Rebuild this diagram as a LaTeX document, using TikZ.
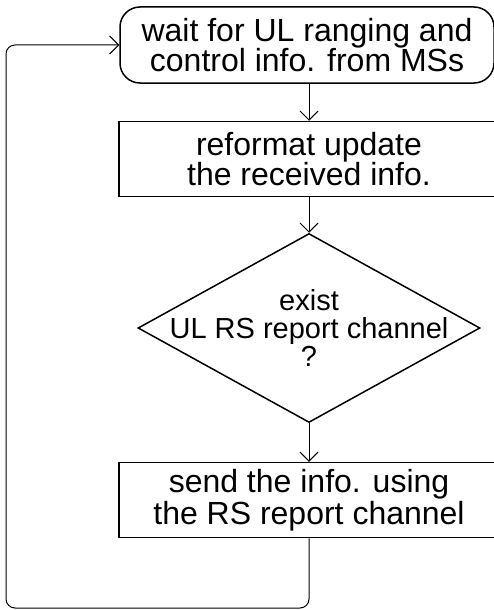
\documentclass[tikz,border=0pt]{standalone}
\usepackage{fontspec}
\setmainfont{Liberation Sans}
\usetikzlibrary{shapes.geometric,arrows.meta}
\begin{document}
\begin{tikzpicture}[x=1pt,y=-1pt,
  boxst/.style={draw,line width=1.5pt,minimum width=380pt,minimum height=75pt,inner sep=0pt,align=center,font=\fontsize{32}{27}\selectfont},
  conn/.style={line width=1pt,-{Straight Barb[length=9pt,width=18pt,line width=1pt]}}]
\useasboundingbox (0,0) rectangle (494,610);
\clip (0,0) rectangle (494,610);
\node[boxst,rounded corners=20pt,minimum width=374pt,minimum height=76pt,font=\fontsize{32}{26}\selectfont] (wait) at (307,45) {wait for UL ranging and\\control info. from MSs};
\node[boxst] (ref) at (309,159) {reformat update\\the received info.};
\node[draw,line width=1.5pt,diamond,minimum width=342pt,minimum height=189pt,inner sep=0pt] (dec) at (309,328) {};
\node[align=center,inner sep=0pt,font=\fontsize{29}{28}\selectfont] (dectext) at (dec.center) {exist\\UL RS report channel\\?};
\node[boxst,font=\fontsize{32}{32}\selectfont] (send) at (309,500) {send the info. using\\the RS report channel};
\draw[conn] (wait.south -| ref.north) -- (ref.north);
\draw[conn] (ref.south) -- (dec.north);
\draw[conn] (dec.south) -- (send.north);
\coordinate (c1) at (6,608);
\draw[conn,rounded corners=9pt] (send.south) |- (c1) |- (wait.west);
\end{tikzpicture}
\end{document}
